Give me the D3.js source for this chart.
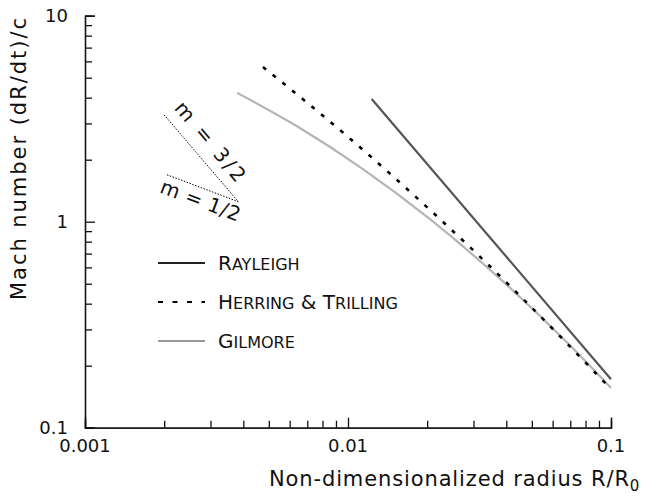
<!DOCTYPE html>
<html lang="en">
<head>
<meta charset="utf-8">
<title>Mach number vs radius</title>
<script src="https://d3js.org/d3.v7.min.js"></script>
<style>
  body { margin: 0; background: white; }
  text { font-family: "DejaVu Sans", sans-serif; fill: #111; }
</style>
</head>
<body>
<script>
// canvas
const SvgWidth = 649
const SvgHeight = 497
const plot = {"left": 85, "right": 611, "top": 15.7, "bottom": 427.7}

// data: [R/R0, Mach number]
const rayleigh = [[0.0123, 3.94], [0.1, 0.172]]
const herring = [[0.00475, 5.64], [0.0099, 2.61], [0.0205, 1.141], [0.0318, 0.675], [0.0463, 0.422], [0.1, 0.154]]
const gilmore = [[0.00379, 4.22], [0.0064, 2.905], [0.0114, 1.80], [0.0205, 1.028], [0.0378, 0.529], [0.0681, 0.259], [0.1, 0.156]]
const slope32 = [[0.002, 3.3], [0.00383, 1.25]]
const slope12 = [[0.00205, 1.69], [0.00383, 1.25]]

const xTickValues = [0.001, 0.01, 0.1]
const xTickLabels = ["0.001", "0.01", "0.1"]
const yTickValues = [0.1, 1, 10]
const yTickLabels = ["0.1", "1", "10"]

const legendNames = ["Rayleigh", "Herring & Trilling", "Gilmore"]

var svg = d3.select("body").append("svg")
    .attr("width", SvgWidth)
    .attr("height", SvgHeight)

var xScale = d3.scaleLog().domain([0.001, 0.1]).range([plot.left, plot.right])
var yScale = d3.scaleLog().domain([0.1, 10]).range([plot.bottom, plot.top])

// minor ticks 2..9 of each decade
function minorTicks(lo, hi){
    var out = []
    for (var d = lo; d < hi; d *= 10){
        for (var k = 2; k <= 9; k++) out.push(d * k)
    }
    return out
}

// x axis, ticks point inward
var xAxis = svg.append("g")
    .attr("transform", "translate(0," + plot.bottom + ")")
    .call(d3.axisTop(xScale).tickValues(minorTicks(0.001, 0.1)).tickSize(7).tickFormat(""))
xAxis.append("g")
    .call(d3.axisTop(xScale).tickValues(xTickValues).tickSize(10).tickFormat(""))
xAxis.selectAll("path.domain").attr("stroke", "#111").attr("stroke-width", 1.3)
xAxis.selectAll(".tick line").attr("stroke", "#111").attr("stroke-width", 1.3)
xAxis.select("g").select("path.domain").remove()

svg.append("g").selectAll("text")
    .data(xTickValues)
    .enter().append("text")
    .attr("x", function(d){ return xScale(d) })
    .attr("y", plot.bottom + 24)
    .attr("text-anchor", "middle")
    .style("font-size", "18px")
    .text(function(d, i){ return xTickLabels[i] })

// y axis
var yAxis = svg.append("g")
    .attr("transform", "translate(" + plot.left + ",0)")
    .call(d3.axisRight(yScale).tickValues(minorTicks(0.1, 10)).tickSize(7).tickFormat(""))
yAxis.append("g")
    .call(d3.axisRight(yScale).tickValues(yTickValues).tickSize(10).tickFormat(""))
yAxis.selectAll("path.domain").attr("stroke", "#111").attr("stroke-width", 1.3)
yAxis.selectAll(".tick line").attr("stroke", "#111").attr("stroke-width", 1.3)
yAxis.select("g").select("path.domain").remove()

svg.append("g").selectAll("text")
    .data(yTickValues)
    .enter().append("text")
    .attr("x", plot.left - 17)
    .attr("y", function(d){ return yScale(d) + 6 })
    .attr("text-anchor", "end")
    .style("font-size", "18px")
    .text(function(d, i){ return yTickLabels[i] })

// axis titles
var xTitle = svg.append("text")
    .attr("x", 269)
    .attr("y", 486)
    .style("font-size", "21px")
xTitle.append("tspan").attr("textLength", 360).attr("lengthAdjust", "spacing")
    .text("Non-dimensionalized radius R/R")
xTitle.append("tspan").attr("dy", 5).style("font-size", "15px").text("0")

svg.append("text")
    .attr("transform", "translate(26,159) rotate(-90)")
    .attr("text-anchor", "middle")
    .attr("textLength", 282).attr("lengthAdjust", "spacing")
    .style("font-size", "21px")
    .text("Mach number (dR/dt)/c")

// curves
var line = d3.line()
    .x(function(d){ return xScale(d[0]) })
    .y(function(d){ return yScale(d[1]) })
    .curve(d3.curveMonotoneX)

svg.append("path").datum(gilmore)
    .attr("d", line).attr("fill", "none")
    .attr("stroke", "#b4b4b4").attr("stroke-width", 2.2)
svg.append("path").datum(herring)
    .attr("d", line).attr("fill", "none")
    .attr("stroke", "#000").attr("stroke-width", 2.6)
    .attr("stroke-dasharray", "4,8.5")
svg.append("path").datum(rayleigh)
    .attr("d", line).attr("fill", "none")
    .attr("stroke", "#555").attr("stroke-width", 2.2)

// slope guides
var straight = d3.line()
    .x(function(d){ return xScale(d[0]) })
    .y(function(d){ return yScale(d[1]) })
svg.append("path").datum(slope32)
    .attr("d", straight).attr("fill", "none")
    .attr("stroke", "#000").attr("stroke-width", 1).attr("stroke-dasharray", "1.5,1.5")
svg.append("path").datum(slope12)
    .attr("d", straight).attr("fill", "none")
    .attr("stroke", "#000").attr("stroke-width", 1).attr("stroke-dasharray", "1.5,1.5")

svg.append("text")
    .attr("transform", "translate(205,146) rotate(50)")
    .attr("text-anchor", "middle")
    .attr("textLength", 98).attr("lengthAdjust", "spacing")
    .style("font-size", "20px")
    .text("m = 3/2")
svg.append("text")
    .attr("transform", "translate(198,207) rotate(20.5)")
    .attr("text-anchor", "middle")
    .attr("textLength", 84).attr("lengthAdjust", "spacing")
    .style("font-size", "20px")
    .text("m = 1/2")

// legend, small caps built from two sizes
var legend = svg.append("g").attr("transform", "translate(158,263)")
var legendStyle = [
    {"stroke": "#222", "dash": null},
    {"stroke": "#000", "dash": "5,9.5"},
    {"stroke": "#999", "dash": null}
]
legendNames.forEach(function(name, i){
    var g = legend.append("g").attr("transform", "translate(0," + (i * 39) + ")")
    g.append("line")
        .attr("x1", 0).attr("x2", 47)
        .attr("stroke", legendStyle[i].stroke)
        .attr("stroke-width", 2)
        .attr("stroke-dasharray", legendStyle[i].dash)
    var t = g.append("text").attr("x", 60).attr("y", 7)
    name.split(" ").forEach(function(word, j){
        if (j > 0) t.append("tspan").style("font-size", "20px").text(" ")
        t.append("tspan").style("font-size", "20px").text(word[0].toUpperCase())
        if (word.length > 1)
            t.append("tspan").style("font-size", "16px").text(word.slice(1).toUpperCase())
    })
})
</script>
</body>
</html>
